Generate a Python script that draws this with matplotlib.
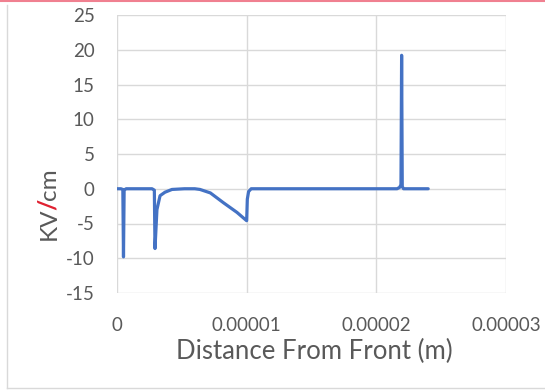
import matplotlib
matplotlib.use('Agg')
import matplotlib.pyplot as plt
from matplotlib.lines import Line2D

# distance from front (m) and field (kV/cm)
dist = [0.0, 0.30e-6, 0.45e-6, 0.50e-6, 0.55e-6, 0.70e-6,
        2.70e-6, 2.88e-6, 2.93e-6, 3.08e-6, 3.32e-6, 3.70e-6, 4.24e-6, 5.20e-6,
        6.00e-6, 6.40e-6, 7.20e-6, 8.20e-6, 9.25e-6, 10.0e-6, 10.05e-6, 10.15e-6,
        10.35e-6, 12.0e-6, 20.0e-6, 21.6e-6, 21.8e-6, 21.9e-6, 21.95e-6, 22.0e-6,
        22.1e-6, 24.0e-6]
field = [0.0, 0.0, -0.1, -9.8, -0.2, 0.0,
         0.0, -0.2, -8.6, -3.0, -1.0, -0.5, -0.1, 0.0,
         0.0, -0.1, -0.6, -2.0, -3.4, -4.6, -1.5, -0.4,
         0.0, 0.0, 0.0, 0.0, 0.2, 0.6, 19.2, 0.3,
         0.0, 0.0]

xticks = [0, 0.00001, 0.00002, 0.00003]
xtick_labels = ['0', '0.00001', '0.00002', '0.00003']
yticks = [-15, -10, -5, 0, 5, 10, 15, 20, 25]

plt.rcParams['font.family'] = ['Lato', 'DejaVu Sans']
plt.rcParams['axes.unicode_minus'] = False
grey = '#595959'

fig = plt.figure(figsize=(5.45, 3.91), dpi=100)
W, H = 545, 391
ax = fig.add_axes([117 / W, 1 - 293 / H, (506 - 117) / W, (293 - 15) / H])

ax.plot(dist, field, color='#4472C4', lw=2.3, solid_joinstyle='round',
        solid_capstyle='round')

ax.set_xlim(0, 0.00003)
ax.set_ylim(-15, 25)
ax.set_xticks(xticks)
ax.set_xticklabels(xtick_labels)
ax.set_yticks(yticks)
ax.grid(True, color='#D9D9D9', lw=1.0)
ax.set_axisbelow(True)
for s in ax.spines.values():
    s.set_visible(False)
ax.tick_params(length=0, labelsize=13.5, labelcolor=grey)
ax.tick_params(axis='x', pad=17)
ax.tick_params(axis='y', pad=16)

fig.text(314 / W, 1 - 351 / H, 'Distance From Front (m)', ha='center',
         va='center', fontsize=18.5, color=grey)

# y label, with the slash in red
renderer = fig.canvas.get_renderer()
def text_len(s, fw='normal'):
    t = fig.text(0, 0, s, fontsize=17.5, fontweight=fw)
    w = t.get_window_extent(renderer).width
    t.remove()
    return w

w_kv = text_len('KV')
w_sl = text_len('/', 'bold')
w_cm = text_len('cm')
starts = [0, w_kv - 3, w_kv + w_sl - 4]
total = w_kv + w_sl + w_cm - 4
parts = [('KV', grey, 'normal'), ('/', '#E02030', 'bold'), ('cm', grey, 'normal')]
y0 = 204 + total / 2  # pixel row of the start of the word
base_x = 56
for (txt, c, fw), st in zip(parts, starts):
    fig.text(base_x / W, 1 - (y0 - st) / H, txt, rotation=90, rotation_mode='anchor',
             ha='left', va='baseline', fontsize=17.5, color=c, fontweight=fw)

# chart frame
fig.add_artist(Line2D([0, 1], [1 - 0.8 / H, 1 - 0.8 / H], color='#F08090', lw=1.5,
                      transform=fig.transFigure))
fig.add_artist(Line2D([7 / W, 7 / W], [1 - 5 / H, 1 - 388 / H], color='#D9D9D9', lw=1,
                      transform=fig.transFigure))
fig.add_artist(Line2D([7 / W, 1], [1 - 388 / H, 1 - 388 / H], color='#D9D9D9', lw=1,
                      transform=fig.transFigure))

fig.savefig('out.png', dpi=100)
